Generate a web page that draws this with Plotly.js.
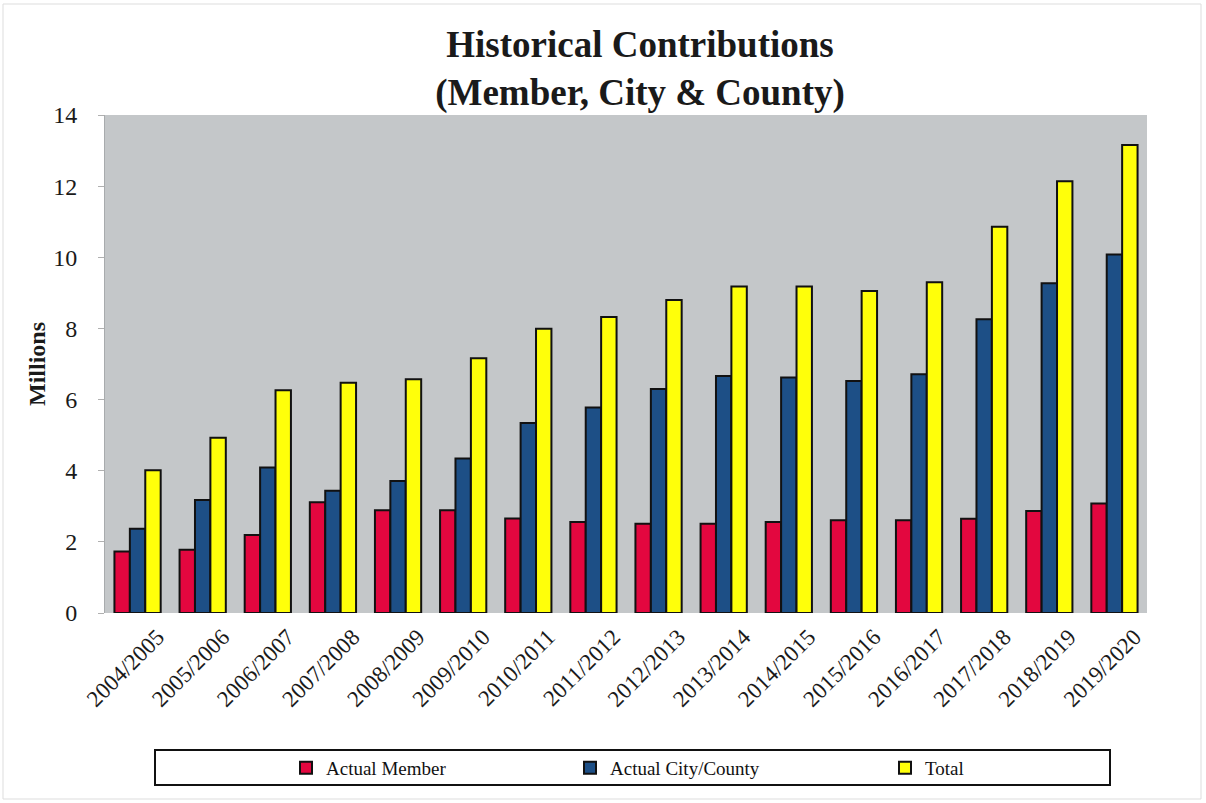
<!DOCTYPE html>
<html>
<head>
<meta charset="utf-8">
<script src="https://cdn.plot.ly/plotly-3.0.1.min.js"></script>
<style>
  html, body { margin: 0; padding: 0; background: #ffffff; }
  #chart { width: 1206px; height: 803px; }
</style>
</head>
<body>
<div id="chart"></div>
<script>
const years = ["2004/2005","2005/2006","2006/2007","2007/2008","2008/2009","2009/2010","2010/2011","2011/2012","2012/2013","2013/2014","2014/2015","2015/2016","2016/2017","2017/2018","2018/2019","2019/2020"];
const actualMember = [1.73,1.78,2.19,3.11,2.89,2.89,2.66,2.56,2.51,2.51,2.56,2.61,2.61,2.65,2.87,3.08];
const actualCityCounty = [2.37,3.18,4.09,3.44,3.71,4.34,5.34,5.78,6.30,6.66,6.62,6.52,6.71,8.26,9.27,10.08];
const total = [4.01,4.93,6.26,6.47,6.57,7.16,7.99,8.32,8.80,9.18,9.18,9.05,9.30,10.86,12.14,13.16];
const yTicks = [0,2,4,6,8,10,12,14];

const serif = "'Liberation Serif', 'Times New Roman', serif";
const outline = {color: "#111111", width: 2};

const traces = [
  {type: "bar", name: "Actual Member", x: years, y: actualMember,
   marker: {color: "#E3073F", line: outline}, legend: "legend"},
  {type: "bar", name: "Actual City/County", x: years, y: actualCityCounty,
   marker: {color: "#1D4F86", line: outline}, legend: "legend2"},
  {type: "bar", name: "Total", x: years, y: total,
   marker: {color: "#FFFF0A", line: outline}, legend: "legend3"}
];

const W = 1206, H = 803, L = 105, R = 59, T = 115, B = 190;
const pw = W - L - R, ph = H - T - B;
const px = v => (v - L) / pw;
const py = v => (H - B - v) / ph;

const legendCommon = {
  orientation: "h", xanchor: "left", yanchor: "middle",
  y: py(768), bgcolor: "rgba(0,0,0,0)", borderwidth: 0,
  font: {family: serif, size: 19, color: "#111111"},
  itemwidth: 30, tracegroupgap: 0
};

const layout = {
  width: W, height: H,
  margin: {l: L, r: R, t: T, b: B},
  paper_bgcolor: "#ffffff",
  plot_bgcolor: "#C4C7C9",
  barmode: "group",
  bargap: 0.29,
  bargroupgap: 0,
  title: {
    text: "<b>Historical Contributions<br>(Member, City &amp; County)</b>",
    font: {family: serif, size: 37, color: "#1a1a1a"},
    xref: "container", x: 640 / W, xanchor: "center",
    yref: "container", y: 1 - 57 / H, yanchor: "top"
  },
  xaxis: {
    type: "category",
    tickangle: -45,
    tickfont: {family: serif, size: 23, color: "#1a1a1a"},
    ticklabelshift: 20,
    ticklabelstandoff: 5,
    showgrid: false, zeroline: false,
    showline: false,
    ticks: "",
    automargin: false
  },
  yaxis: {
    range: [0, 14],
    tickvals: yTicks,
    ticktext: yTicks.map(String),
    tickfont: {family: serif, size: 24, color: "#1a1a1a"},
    showgrid: false, zeroline: false,
    showline: true, linecolor: "#a8abad", linewidth: 1,
    ticks: "outside", ticklen: 6, tickcolor: "#b0b0b0",
    ticklabelstandoff: 16,
    title: {text: "<b>Millions</b>", font: {family: serif, size: 24, color: "#1a1a1a"}, standoff: 0},
    automargin: false
  },
  legend: Object.assign({}, legendCommon, {x: px(286)}),
  legend2: Object.assign({}, legendCommon, {x: px(570)}),
  legend3: Object.assign({}, legendCommon, {x: px(885)}),
  shapes: [
    {type: "rect", xref: "paper", yref: "paper",
     x0: px(155), x1: px(1110), y0: py(785), y1: py(750),
     line: {color: "#111111", width: 2}, fillcolor: "rgba(0,0,0,0)", layer: "below"},
    {type: "rect", xref: "paper", yref: "paper",
     x0: px(3), x1: px(1201), y0: py(799), y1: py(4),
     line: {color: "#dddddd", width: 1}, fillcolor: "rgba(0,0,0,0)", layer: "below"}
  ],
  showlegend: true
};

Plotly.newPlot("chart", traces, layout, {displayModeBar: false, staticPlot: true});
</script>
</body>
</html>
